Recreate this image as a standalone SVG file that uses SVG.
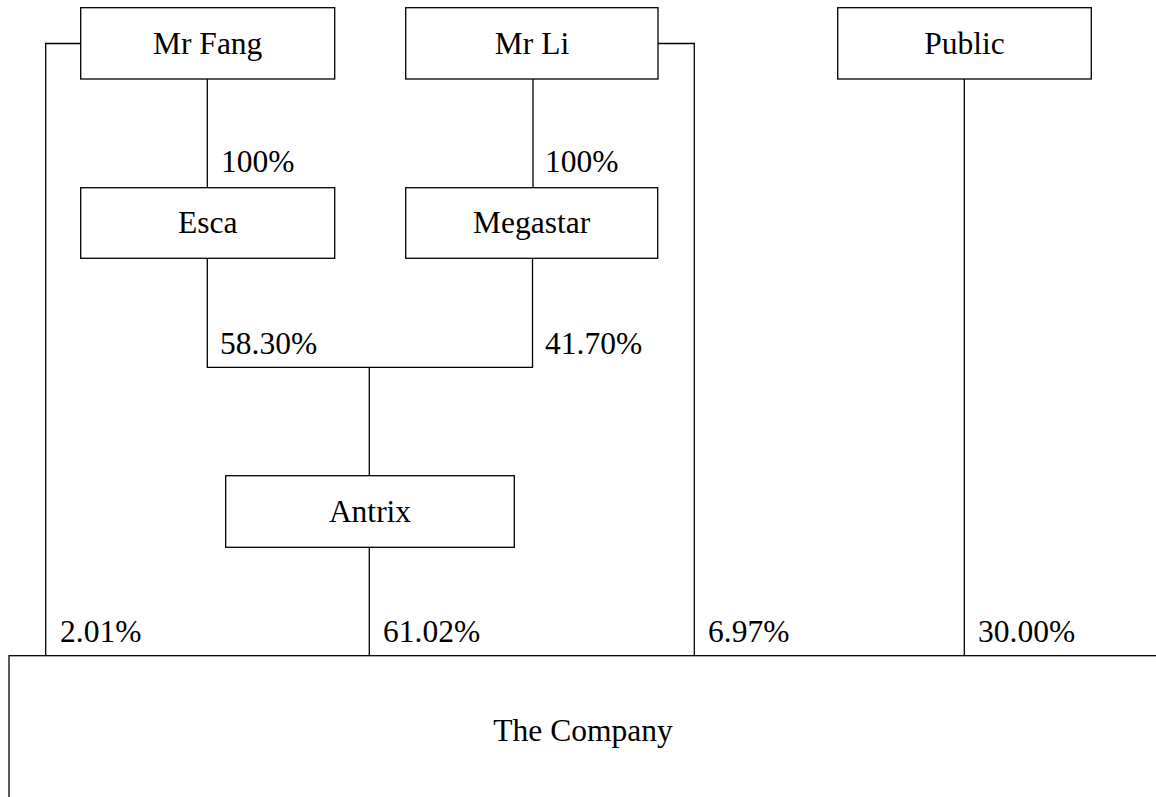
<svg xmlns="http://www.w3.org/2000/svg" width="1156" height="797" viewBox="0 0 1156 797">
<style>
.box{fill:#fff;stroke:#000;stroke-width:1.3}
.ln{fill:none;stroke:#000;stroke-width:1.3}
text{font-family:"Liberation Serif","Times New Roman",serif;font-size:31.5px;fill:#000}
.c{text-anchor:middle}
</style>
<rect width="1156" height="797" fill="#fff"/>
<g id="connectors">
<polyline class="ln" points="80.7,43.5 45.7,43.5 45.7,655.7"/>
<polyline class="ln" points="658,43.5 694.3,43.5 694.3,655.7"/>
<line class="ln" x1="207.3" y1="79" x2="207.3" y2="187.7"/>
<line class="ln" x1="533" y1="79" x2="533" y2="187.7"/>
<line class="ln" x1="964.3" y1="79" x2="964.3" y2="655.7"/>
<polyline class="ln" points="207.3,258.3 207.3,367.3 532.5,367.3 532.5,258.3"/>
<line class="ln" x1="369.3" y1="367.3" x2="369.3" y2="475.7"/>
<line class="ln" x1="369.3" y1="547.3" x2="369.3" y2="655.7"/>
<text x="221" y="172">100%</text>
<text x="545" y="172">100%</text>
<text x="220" y="353.5">58.30%</text>
<text x="545" y="353.5">41.70%</text>
<text x="60" y="642">2.01%</text>
<text x="383" y="642">61.02%</text>
<text x="708" y="642">6.97%</text>
<text x="978" y="642">30.00%</text>
</g>
<g id="mr-fang"><rect class="box" x="80.7" y="7.7" width="254" height="71.3"/><text class="c" x="207.7" y="53.5">Mr Fang</text></g>
<g id="mr-li"><rect class="box" x="405.7" y="7.7" width="252.3" height="71.3"/><text class="c" x="532" y="53.5">Mr Li</text></g>
<g id="public"><rect class="box" x="837.7" y="7.7" width="253.6" height="71.3"/><text class="c" x="964.5" y="53.5">Public</text></g>
<g id="esca"><rect class="box" x="80.7" y="187.7" width="254" height="70.6"/><text class="c" x="207.7" y="233.2">Esca</text></g>
<g id="megastar"><rect class="box" x="405.7" y="187.7" width="252" height="70.6"/><text class="c" x="531.7" y="233.2">Megastar</text></g>
<g id="antrix"><rect class="box" x="225.7" y="475.7" width="288.6" height="71.6"/><text class="c" x="370" y="521.7">Antrix</text></g>
<g id="the-company"><rect class="box" x="9" y="655.7" width="1148" height="170"/><text class="c" x="583" y="740.5">The Company</text></g>
</svg>
